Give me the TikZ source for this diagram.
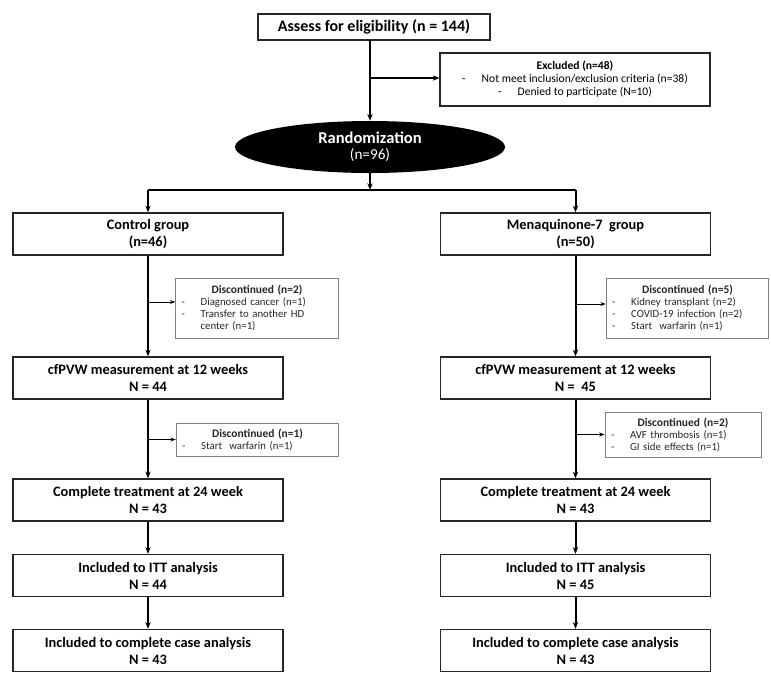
\documentclass[tikz,border=0pt]{standalone}
\usepackage{fontspec}
\setmainfont{Carlito}
\usetikzlibrary{arrows.meta,shapes.geometric,calc}
\newcommand{\dl}[1]{\par\noindent\makebox[14.25pt][l]{-}#1}
\newcommand{\dc}[1]{\par\noindent\hspace*{14.25pt}#1}
\newcommand{\dt}[1]{{\centering\fontsize{8.6}{9}\selectfont\bfseries #1\par}}
\begin{document}
\begin{tikzpicture}[x=0.75pt,y=-0.75pt,
  mainbox/.style={draw=black!85,line width=1.1pt,minimum width=202.5pt,minimum height=31.5pt,align=center,inner sep=0pt,font=\fontsize{10.8}{12.75}\selectfont\bfseries},
  discbox/.style={draw=black!50,line width=0.6pt,text width=113pt,inner xsep=4.5pt,inner ysep=3pt,font=\fontsize{8.1}{9}\selectfont,text=black!85},
  bigarrow/.style={line width=1.5pt,-{Stealth[length=5pt,width=4pt]}},
  bigline/.style={line width=1.5pt},
  smallarrow/.style={line width=0.6pt,-{Stealth[length=4pt,width=3pt]}}]
\useasboundingbox (0,0) rectangle (771,683);

\node[mainbox,minimum width=174pt,minimum height=19.5pt,font=\fontsize{12}{14}\selectfont\bfseries] (assess) at (374,27) {Assess for eligibility (n = 144)};
\node[draw=black!85,line width=0.9pt,minimum width=202.5pt,minimum height=39.75pt,align=center,inner sep=0pt,font=\fontsize{8.7}{9.75}\selectfont] (excl) at (575,79.5)
  {\textbf{Excluded (n=48)}\\ -\hspace{12pt}Not meet inclusion/exclusion criteria (n=38)\\ -\hspace{12pt}Denied to participate (N=10)};
\node[ellipse,fill=black,minimum width=202.5pt,minimum height=39pt,inner sep=0pt,align=center,text=white] (rand) at (370,147)
  {\fontsize{12.4}{15}\selectfont\bfseries Randomization\\\fontsize{11.4}{15}\selectfont (n=96)};

\node[mainbox] (ctrl) at (148,234) {Control group\\(n=46)};
\node[mainbox] (mk) at (575.5,234) {Menaquinone-7\ \ group\\(n=50)};

\node[discbox,minimum height=45pt] (d1) at (257,308) {\dt{Discontinued (n=2)}\dl{Diagnosed cancer (n=1)}\dl{Transfer to another HD}\dc{center (n=1)}};
\node[discbox,minimum height=45pt] (d2) at (687.5,308) {\dt{Discontinued (n=5)}\dl{Kidney transplant (n=2)}\dl{COVID-19 infection (n=2)}\dl{Start\ \ warfarin (n=1)}};

\node[mainbox] (cf1) at (148,378) {cfPVW measurement at 12 weeks\\N = 44};
\node[mainbox] (cf2) at (575.5,378) {cfPVW measurement at 12 weeks\\N =\ \ 45};

\node[discbox,minimum height=24.75pt] (d3) at (257.5,439.5) {\dt{Discontinued (n=1)}\dl{Start\ \ warfarin (n=1)}};
\node[discbox,text width=108pt,minimum height=33.75pt] (d4) at (683,434.5) {\dt{Discontinued (n=2)}\dl{AVF thrombosis (n=1)}\dl{GI side effects (n=1)}};

\node[mainbox] (ct1) at (148,500) {Complete treatment at 24 week\\N = 43};
\node[mainbox] (ct2) at (575.5,500) {Complete treatment at 24 week\\N = 43};
\node[mainbox] (itt1) at (148,575.5) {Included to ITT analysis\\N = 44};
\node[mainbox] (itt2) at (575.5,575.5) {Included to ITT analysis\\N = 45};
\node[mainbox] (cc1) at (148,650.5) {Included to complete case analysis\\N = 43};
\node[mainbox] (cc2) at (575.5,650.5) {Included to complete case analysis\\N = 43};

% connectors
\coordinate (top) at (370,40);
\coordinate (exj) at (370,78);
\coordinate (split) at (370,190);
\draw[bigarrow] (top) -- (rand.north);
\draw[bigarrow] (exj) -- (excl.west |- exj);
\draw[bigarrow] (rand.south) -- (split);
\draw[bigline] (ctrl.north |- split) -- (mk.north |- split);
\draw[bigarrow] (ctrl.north |- split) -- (ctrl.north);
\draw[bigarrow] (mk.north |- split) -- (mk.north);

\draw[bigarrow] (ctrl.south) -- (cf1.north);
\draw[bigarrow] (mk.south) -- (cf2.north);
\draw[smallarrow] ($(ctrl.south |- d1.west)+(0,-6)$) -- ($(d1.west)+(0,-6)$);
\draw[smallarrow] ($(mk.south |- d2.west)+(0,-4)$) -- ($(d2.west)+(0,-4)$);

\draw[bigarrow] (cf1.south) -- (ct1.north);
\draw[bigarrow] (cf2.south) -- (ct2.north);
\draw[smallarrow] (cf1.south |- d3.west) -- (d3.west);
\draw[smallarrow] (cf2.south |- d4.west) -- (d4.west);

\draw[bigarrow] (ct1.south) -- (itt1.north);
\draw[bigarrow] (ct2.south) -- (itt2.north);
\draw[bigarrow] (itt1.south) -- (cc1.north);
\draw[bigarrow] (itt2.south) -- (cc2.north);
\end{tikzpicture}
\end{document}
